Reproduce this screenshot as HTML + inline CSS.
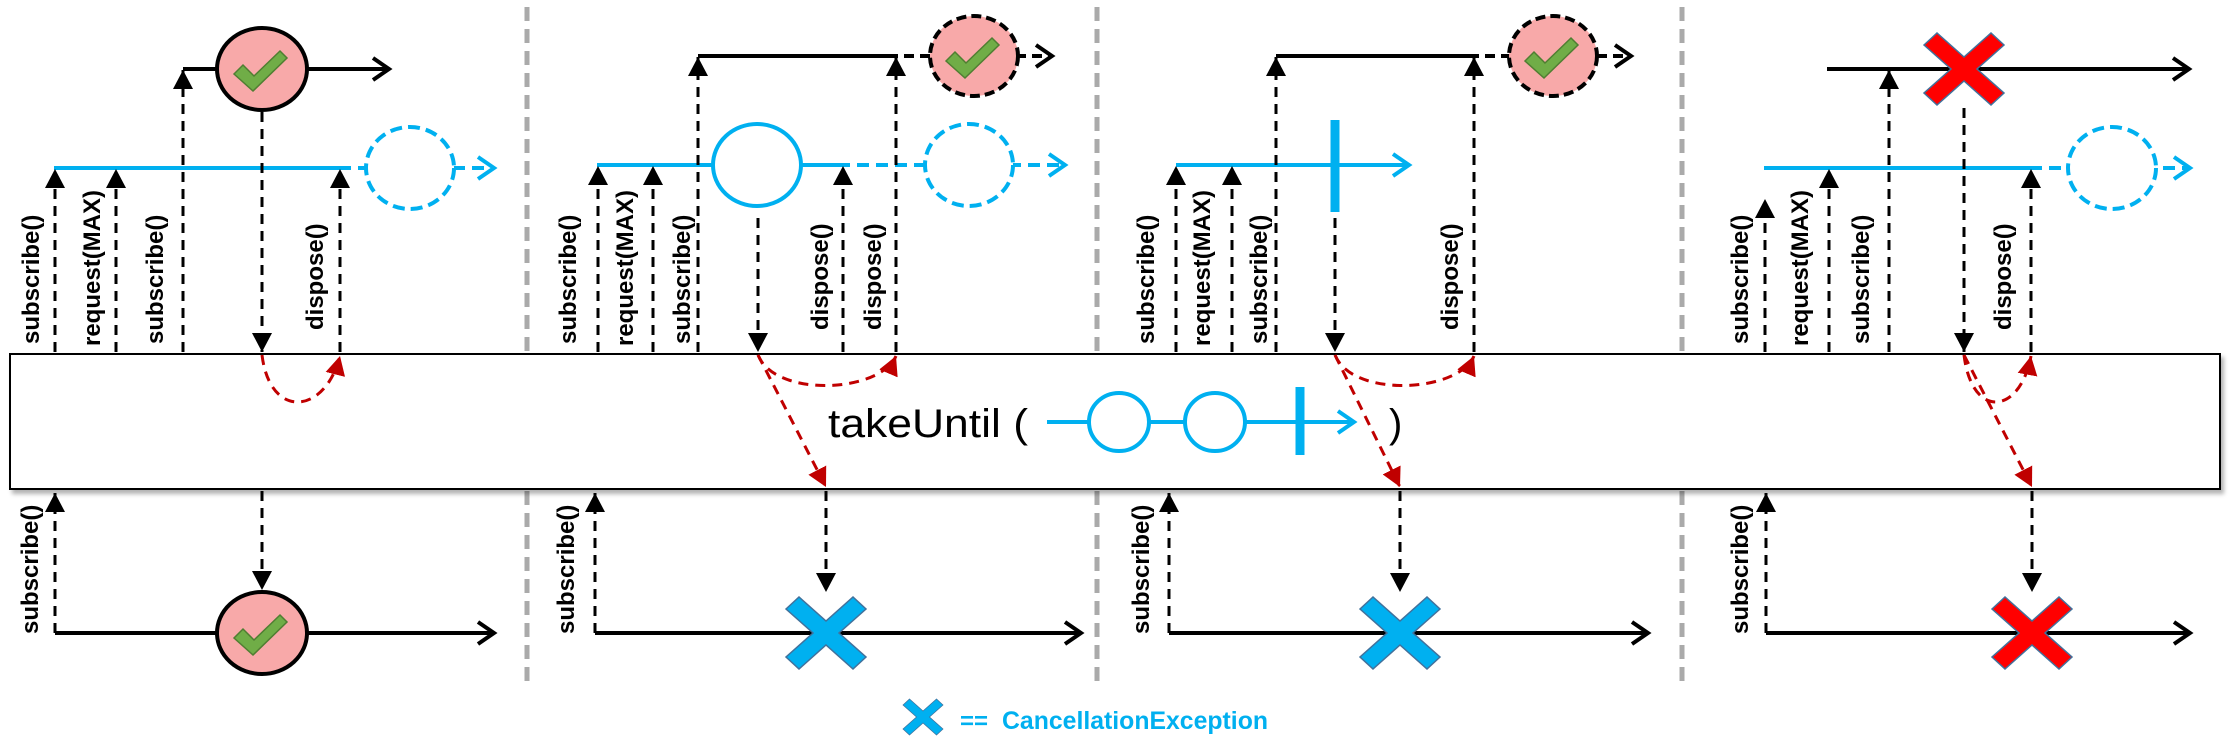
<!DOCTYPE html>
<html><head><meta charset="utf-8"><style>
html,body{margin:0;padding:0;background:#fff;}
svg{display:block;}
.lb{font-family:"Liberation Sans",sans-serif;font-weight:bold;font-size:24px;fill:#000;}
</style></head><body>
<svg width="2234" height="752" viewBox="0 0 2234 752" xmlns="http://www.w3.org/2000/svg">
<defs>
<marker id="tri" markerUnits="userSpaceOnUse" markerWidth="24" markerHeight="24" refX="19" refY="10" orient="auto"><path d="M0,0 L19,10 L0,20 Z" fill="#000"/></marker>
<marker id="rtri" markerUnits="userSpaceOnUse" markerWidth="24" markerHeight="24" refX="19" refY="10" orient="auto"><path d="M0,0 L19,10 L0,20 Z" fill="#c00000"/></marker>
<marker id="chev" markerUnits="userSpaceOnUse" markerWidth="24" markerHeight="28" refX="18" refY="13" orient="auto"><path d="M2,2 L18,13 L2,24" fill="none" stroke="#000" stroke-width="4"/></marker>
<marker id="bchev" markerUnits="userSpaceOnUse" markerWidth="24" markerHeight="28" refX="18" refY="13" orient="auto"><path d="M2,2 L18,13 L2,24" fill="none" stroke="#00b0f0" stroke-width="4"/></marker>
<filter id="sh" x="-5%" y="-20%" width="110%" height="150%"><feDropShadow dx="3" dy="4" stdDeviation="2" flood-color="#000" flood-opacity="0.3"/></filter>
<g id="check"><polygon points="-28,5 -19,-4 -8,7 18,-18 25,-11 -9,22" fill="#70ad47" stroke="#507e32" stroke-width="1.5"/></g>
<polygon id="xx" points="-40,-24 -27,-36 0,-12 27,-36 40,-24 13,0 40,24 27,36 0,12 -27,36 -40,24 -13,0"/>
</defs>

<!-- separators -->
<g stroke="#aaa" stroke-width="5" stroke-dasharray="14 8">
<line x1="527" y1="7" x2="527" y2="685"/><line x1="1097" y1="7" x2="1097" y2="685"/><line x1="1682" y1="7" x2="1682" y2="685"/>
</g>

<!-- box -->
<rect x="10" y="354" width="2210" height="135" fill="#fff" stroke="#000" stroke-width="2" filter="url(#sh)"/>

<g fill="none" stroke-width="4">
<!-- Panel 1 -->
<line x1="183" y1="69" x2="389" y2="69" stroke="#000" marker-end="url(#chev)"/>
<line x1="54" y1="168" x2="339" y2="168" stroke="#00b0f0"/>
<line x1="339" y1="168" x2="494" y2="168" stroke="#00b0f0" stroke-dasharray="12 7" marker-end="url(#bchev)"/>
<ellipse cx="410" cy="168" rx="44" ry="41" fill="#fff" stroke="#00b0f0" stroke-dasharray="12 6"/>
<line x1="55" y1="633" x2="494" y2="633" stroke="#000" marker-end="url(#chev)"/>

<!-- Panel 2 -->
<line x1="698" y1="56" x2="888" y2="56" stroke="#000"/>
<line x1="888" y1="56" x2="1052" y2="56" stroke="#000" stroke-dasharray="10 6" marker-end="url(#chev)"/>
<line x1="597" y1="165" x2="838" y2="165" stroke="#00b0f0"/>
<line x1="838" y1="165" x2="1065" y2="165" stroke="#00b0f0" stroke-dasharray="12 7" marker-end="url(#bchev)"/>
<ellipse cx="757" cy="165" rx="44" ry="41" fill="#fff" stroke="#00b0f0"/>
<ellipse cx="969" cy="165" rx="44" ry="41" fill="#fff" stroke="#00b0f0" stroke-dasharray="12 6"/>
<line x1="595" y1="633" x2="1081" y2="633" stroke="#000" marker-end="url(#chev)"/>

<!-- Panel 3 -->
<line x1="1276" y1="56" x2="1469" y2="56" stroke="#000"/>
<line x1="1469" y1="56" x2="1631" y2="56" stroke="#000" stroke-dasharray="10 6" marker-end="url(#chev)"/>
<line x1="1176" y1="165" x2="1409" y2="165" stroke="#00b0f0" marker-end="url(#bchev)"/>
<line x1="1335" y1="120" x2="1335" y2="212" stroke="#00b0f0" stroke-width="9"/>
<line x1="1169" y1="633" x2="1648" y2="633" stroke="#000" marker-end="url(#chev)"/>

<!-- Panel 4 -->
<line x1="1827" y1="69" x2="2189" y2="69" stroke="#000" marker-end="url(#chev)"/>
<line x1="1764" y1="168" x2="2030" y2="168" stroke="#00b0f0"/>
<line x1="2030" y1="168" x2="2190" y2="168" stroke="#00b0f0" stroke-dasharray="12 7" marker-end="url(#bchev)"/>
<ellipse cx="2112" cy="168" rx="44" ry="41" fill="#fff" stroke="#00b0f0" stroke-dasharray="12 6"/>
<line x1="1766" y1="633" x2="2190" y2="633" stroke="#000" marker-end="url(#chev)"/>

<!-- takeUntil inline marble -->
<line x1="1047" y1="422" x2="1354" y2="422" stroke="#00b0f0" marker-end="url(#bchev)"/>
<ellipse cx="1119" cy="422" rx="30" ry="29" fill="#fff" stroke="#00b0f0"/>
<ellipse cx="1215" cy="422" rx="30" ry="29" fill="#fff" stroke="#00b0f0"/>
<line x1="1300" y1="387" x2="1300" y2="455" stroke="#00b0f0" stroke-width="9"/>
</g>

<!-- check circles -->
<g stroke="#000" stroke-width="4" fill="#f8a9a9">
<ellipse cx="262" cy="69" rx="45" ry="41"/>
<ellipse cx="262" cy="633" rx="45" ry="41"/>
<ellipse cx="974" cy="56" rx="44" ry="40" stroke-dasharray="10 5"/>
<ellipse cx="1553" cy="56" rx="44" ry="40" stroke-dasharray="10 5"/>
</g>
<use href="#check" x="262" y="69"/><use href="#check" x="262" y="633"/>
<use href="#check" x="974" y="56"/><use href="#check" x="1553" y="56"/>

<!-- dashed black arrows -->
<g stroke="#000" stroke-width="3" stroke-dasharray="10 7" fill="none" marker-end="url(#tri)">
<line x1="55" y1="352" x2="55" y2="169"/>
<line x1="116" y1="352" x2="116" y2="169"/>
<line x1="183" y1="352" x2="183" y2="70"/>
<line x1="340" y1="352" x2="340" y2="169"/>
<line x1="262" y1="112" x2="262" y2="352"/>
<line x1="55" y1="633" x2="55" y2="493"/>
<line x1="262" y1="491" x2="262" y2="590"/>

<line x1="598" y1="352" x2="598" y2="166"/>
<line x1="653" y1="352" x2="653" y2="166"/>
<line x1="698" y1="352" x2="698" y2="57"/>
<line x1="758" y1="218" x2="758" y2="352"/>
<line x1="843" y1="352" x2="843" y2="166"/>
<line x1="896" y1="352" x2="896" y2="57"/>
<line x1="595" y1="633" x2="595" y2="493"/>
<line x1="826" y1="491" x2="826" y2="592"/>

<line x1="1176" y1="352" x2="1176" y2="166"/>
<line x1="1232" y1="352" x2="1232" y2="166"/>
<line x1="1276" y1="352" x2="1276" y2="57"/>
<line x1="1335" y1="218" x2="1335" y2="352"/>
<line x1="1474" y1="352" x2="1474" y2="57"/>
<line x1="1169" y1="633" x2="1169" y2="493"/>
<line x1="1400" y1="491" x2="1400" y2="592"/>

<line x1="1765" y1="352" x2="1765" y2="199"/>
<line x1="1829" y1="352" x2="1829" y2="169"/>
<line x1="1889" y1="352" x2="1889" y2="70"/>
<line x1="1964" y1="108" x2="1964" y2="352"/>
<line x1="2031" y1="352" x2="2031" y2="169"/>
<line x1="1766" y1="633" x2="1766" y2="493"/>
<line x1="2032" y1="491" x2="2032" y2="592"/>
</g>

<!-- red dashed -->
<g stroke="#c00000" stroke-width="3" stroke-dasharray="10 7" fill="none" marker-end="url(#rtri)">
<path d="M262,355 C270,420 325,415 340,356"/>
<path d="M758,355 C775,398 880,393 896,356"/>
<line x1="758" y1="355" x2="826" y2="487"/>
<path d="M1335,355 C1352,398 1458,393 1474,356"/>
<line x1="1335" y1="355" x2="1400" y2="487"/>
<path d="M1964,355 C1972,420 2020,415 2031,356"/>
<line x1="1964" y1="355" x2="2032" y2="487"/>
</g>

<!-- X marks -->
<g stroke="#41719c" stroke-width="1.5">
<use href="#xx" x="826" y="633" fill="#00b0f0"/>
<use href="#xx" x="1400" y="633" fill="#00b0f0"/>
<use href="#xx" x="1964" y="69" fill="#ff0000"/>
<use href="#xx" x="2032" y="633" fill="#ff0000"/>
<use href="#xx" transform="translate(923,717) scale(0.5)" fill="#00b0f0"/>
</g>

<!-- labels -->
<g class="lb">
<text transform="translate(39,344) rotate(-90)">subscribe()</text>
<text transform="translate(100,346) rotate(-90)">request(MAX)</text>
<text transform="translate(163,344) rotate(-90)">subscribe()</text>
<text transform="translate(323,330) rotate(-90)">dispose()</text>
<text transform="translate(38,634) rotate(-90)">subscribe()</text>

<text transform="translate(576,344) rotate(-90)">subscribe()</text>
<text transform="translate(633,346) rotate(-90)">request(MAX)</text>
<text transform="translate(690,344) rotate(-90)">subscribe()</text>
<text transform="translate(828,330) rotate(-90)">dispose()</text>
<text transform="translate(881,330) rotate(-90)">dispose()</text>
<text transform="translate(574,634) rotate(-90)">subscribe()</text>

<text transform="translate(1154,344) rotate(-90)">subscribe()</text>
<text transform="translate(1210,346) rotate(-90)">request(MAX)</text>
<text transform="translate(1267,344) rotate(-90)">subscribe()</text>
<text transform="translate(1458,330) rotate(-90)">dispose()</text>
<text transform="translate(1149,634) rotate(-90)">subscribe()</text>

<text transform="translate(1748,344) rotate(-90)">subscribe()</text>
<text transform="translate(1808,346) rotate(-90)">request(MAX)</text>
<text transform="translate(1869,344) rotate(-90)">subscribe()</text>
<text transform="translate(2011,330) rotate(-90)">dispose()</text>
<text transform="translate(1748,634) rotate(-90)">subscribe()</text>
</g>

<text x="828" y="437" font-family="Liberation Sans, sans-serif" font-size="40" textLength="200" lengthAdjust="spacingAndGlyphs" fill="#000">takeUntil (</text>
<text x="1389" y="437" font-family="Liberation Sans, sans-serif" font-size="40" fill="#000">)</text>

<text x="960" y="729" font-family="Liberation Sans, sans-serif" font-weight="bold" font-size="24" fill="#00b0f0">==</text>
<text x="1002" y="729" font-family="Liberation Sans, sans-serif" font-weight="bold" font-size="25" textLength="266" lengthAdjust="spacingAndGlyphs" fill="#00b0f0">CancellationException</text>
</svg>
</body></html>
